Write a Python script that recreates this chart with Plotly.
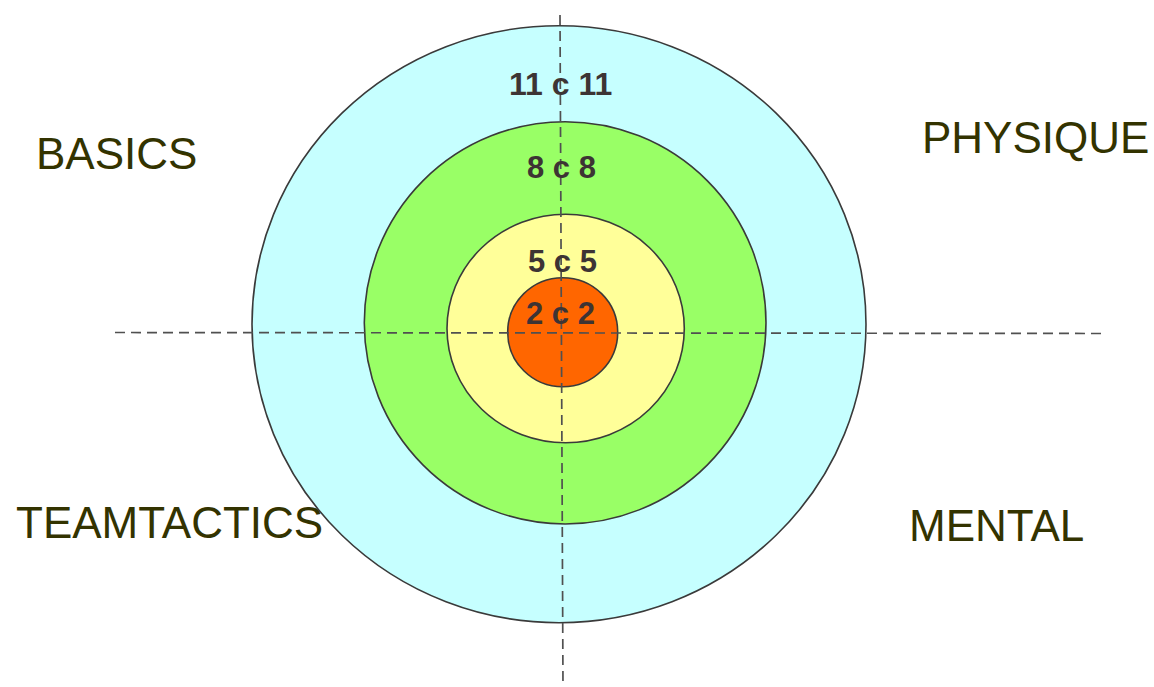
import plotly.graph_objects as go

# ---- data ----
ring_labels = ["11 c 11", "8 c 8", "5 c 5", "2 c 2"]
ring_colors = ["#C6FFFF", "#99FF66", "#FFFF99", "#FF6600"]
quadrant_labels = ["BASICS", "PHYSIQUE", "TEAMTACTICS", "MENTAL"]

# ---- layout geometry (pixel space) ----
W, H = 1154, 687
# ellipse bounds for each ring: (x0, x1, y0, y1)
ring_bounds = [
    (252, 866, 25.7, 622.7),
    (364.3, 766, 121.7, 524),
    (447, 684.3, 214.3, 442.7),
    (507.7, 617.7, 277.7, 386.7),
]
ring_label_pos = [(560, 84), (561.5, 167), (562.5, 261.5), (560.5, 313.5)]
ring_label_size = [32, 31, 31, 31]
quad_pos = [(116.5, 153), (1035, 137.5), (169, 522.5), (996.5, 525)]

fig = go.Figure()

shapes = []
for (x0, x1, y0, y1), col in zip(ring_bounds, ring_colors):
    shapes.append(dict(type="circle", xref="x", yref="y", x0=x0, x1=x1, y0=y0, y1=y1,
                       fillcolor=col, line=dict(color="#3a3a3a", width=1.6), layer="above"))
# dashed cross lines
shapes.append(dict(type="line", xref="x", yref="y", x0=560, y0=15, x1=563, y1=687,
                   line=dict(color="#505050", width=1.7, dash="10px,6px"), layer="above"))
shapes.append(dict(type="line", xref="x", yref="y", x0=115, y0=332.5, x1=1102, y1=333.5,
                   line=dict(color="#505050", width=1.7, dash="10px,6px"), layer="above"))

annotations = []
for lab, (x, y), s in zip(ring_labels, ring_label_pos, ring_label_size):
    annotations.append(dict(x=x, y=y, xref="x", yref="y", text="<b>%s</b>" % lab, showarrow=False,
                            font=dict(family="Liberation Sans, Arial", size=s, color="#3d3434"),
                            xanchor="center", yanchor="middle"))
for lab, (x, y) in zip(quadrant_labels, quad_pos):
    annotations.append(dict(x=x, y=y, xref="x", yref="y", text=lab, showarrow=False,
                            font=dict(family="Liberation Sans, Arial", size=44, color="#333300"),
                            xanchor="center", yanchor="middle"))

fig.add_trace(go.Scatter(x=[0, W], y=[0, H], mode="markers", marker=dict(opacity=0),
                         hoverinfo="skip", showlegend=False))

fig.update_layout(
    width=W, height=H, margin=dict(l=0, r=0, t=0, b=0),
    paper_bgcolor="white", plot_bgcolor="white",
    xaxis=dict(range=[0, W], visible=False, fixedrange=True),
    yaxis=dict(range=[H, 0], visible=False, fixedrange=True),
    shapes=shapes, annotations=annotations, showlegend=False,
)

fig.write_html("out.html", config={"displayModeBar": False},
               post_script="document.body.style.margin='0px';document.body.style.overflow='hidden';")
